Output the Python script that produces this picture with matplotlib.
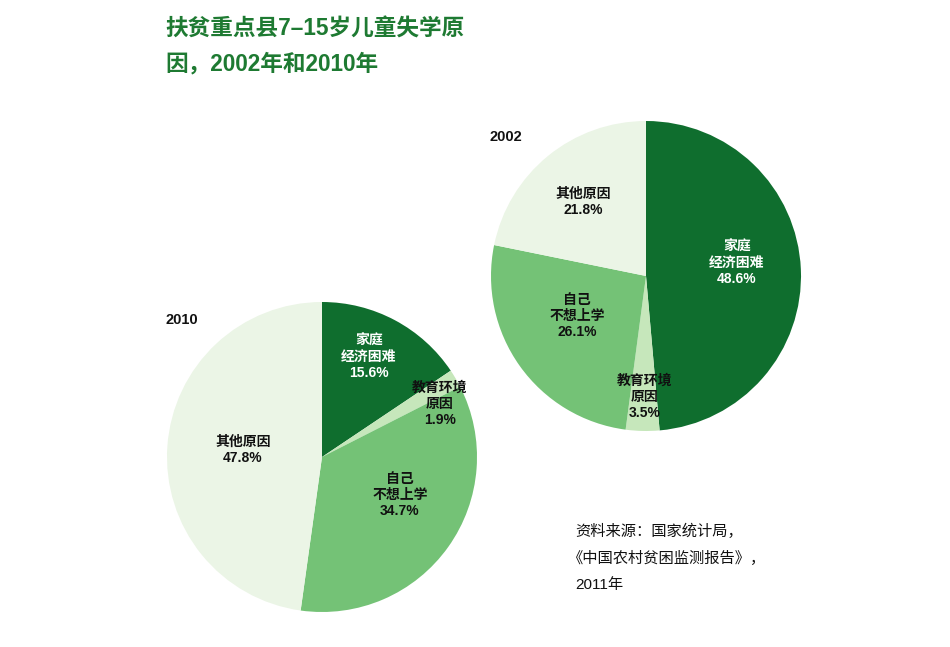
import matplotlib
matplotlib.use("Agg")
import matplotlib.pyplot as plt

plt.rcParams['font.family'] = ['Liberation Sans', 'Noto Sans CJK SC', 'DejaVu Sans']

categories = ["家庭\n经济困难", "教育环境\n原因", "自己\n不想上学", "其他原因"]
values_2010 = [15.6, 1.9, 34.7, 47.8]
values_2002 = [48.6, 3.5, 26.1, 21.8]
colors = ["#0f6e2e", "#c6e7bb", "#74c276", "#ebf5e6"]
text_colors = ["white", "#111111", "#111111", "#111111"]

W, H = 950, 647
fig = plt.figure(figsize=(9.5, 6.47), dpi=100)
ax = fig.add_axes([0, 0, 1, 1])

def py(y):
    return H - y

def draw(vals, cx, cy, r, label_pos):
    ax.pie(vals, colors=colors, startangle=90, counterclock=False,
           center=(cx, py(cy)), radius=r, frame=True,
           wedgeprops=dict(linewidth=0))
    for cat, v, tc, (lx, ly) in zip(categories, vals, text_colors, label_pos):
        ax.text(lx, py(ly), f"{cat}\n{v}%", ha='center', va='center',
                color=tc, fontsize=10, fontweight='bold', linespacing=1.2)

draw(values_2010, 322, 457, 155,
     [(369, 357), (440, 404), (400, 495), (243, 450)])
draw(values_2002, 646, 276, 155,
     [(737, 263), (645, 397), (577, 316), (583, 202)])
ax.set_xlim(0, W)
ax.set_ylim(0, H)
ax.set_aspect('equal')
ax.axis('off')

ax.text(166, py(320), "2010", fontsize=10.5, fontweight='bold', va='center', color='#111111')
ax.text(490, py(137), "2002", fontsize=10.5, fontweight='bold', va='center', color='#111111')

ax.text(165, py(29), "扶贫重点县7–15岁儿童失学原", fontsize=16.3, fontweight='bold',
        color='#1e7a32', va='center')
ax.text(165, py(64), "因，2002年和2010年", fontsize=16.3, fontweight='bold',
        color='#1e7a32', va='center')

ax.text(575, py(531), "资料来源：国家统计局，", fontsize=11, va='center', color='#111111')
ax.text(568, py(558), "《中国农村贫困监测报告》，", fontsize=11, va='center', color='#111111')
ax.text(575, py(585), "2011年", fontsize=11, va='center', color='#111111')

fig.savefig("out.png", dpi=100, facecolor='white')
